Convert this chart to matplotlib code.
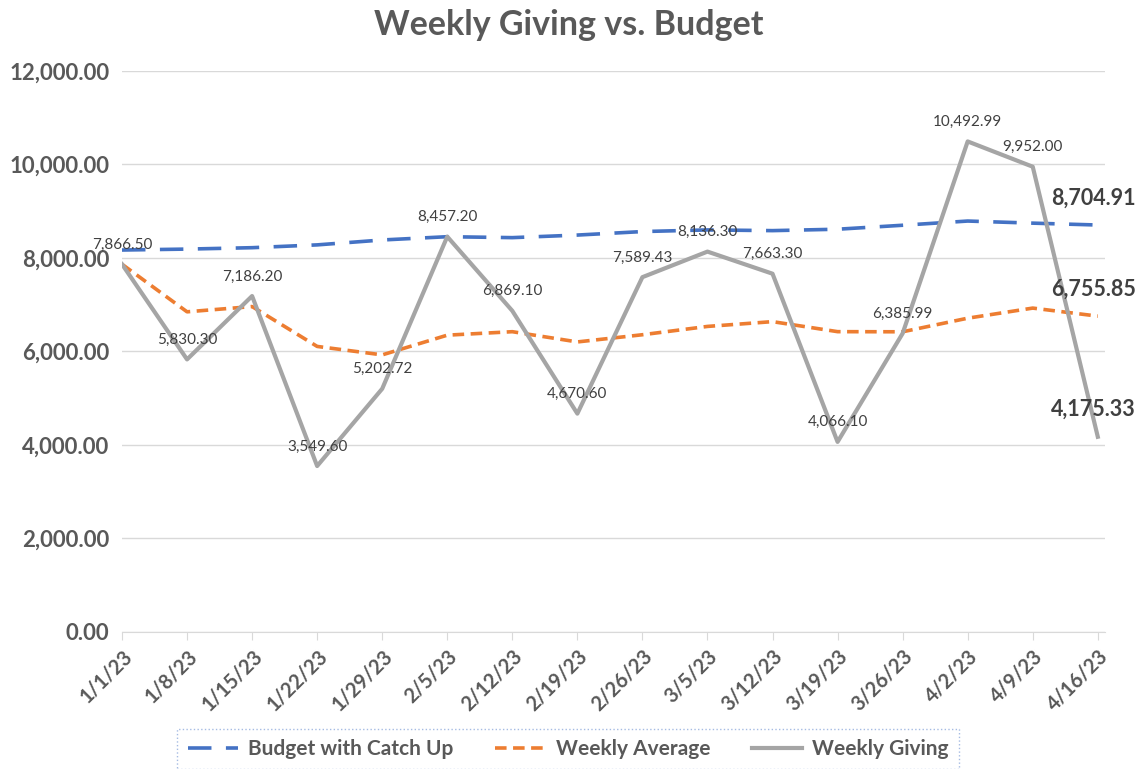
import numpy as np
from matplotlib import pyplot as plt
from matplotlib.ticker import FuncFormatter

weeks = ['1/1/23', '1/8/23', '1/15/23', '1/22/23', '1/29/23', '2/5/23', '2/12/23', '2/19/23',
         '2/26/23', '3/5/23', '3/12/23', '3/19/23', '3/26/23', '4/2/23', '4/9/23', '4/16/23']

budget = [8170, 8190, 8220, 8280, 8385, 8455, 8435, 8490,
          8565, 8600, 8585, 8615, 8700, 8790, 8745, 8704.91]
weekly_avg = [7866.50, 6848.40, 6961.00, 6108.15, 5927.06, 6348.75, 6423.09, 6204.03,
              6357.96, 6535.80, 6638.30, 6423.90, 6421.03, 6711.88, 6927.89, 6755.85]
giving = [7866.50, 5830.30, 7186.20, 3549.60, 5202.72, 8457.20, 6869.10, 4670.60,
          7589.43, 8136.30, 7663.30, 4066.10, 6385.99, 10492.99, 9952.00, 4175.33]

plt.rcParams['font.family'] = ['Lato', 'DejaVu Sans']
txt = '#595959'

fig = plt.figure(figsize=(11.39, 7.69), dpi=100)
ax = fig.add_axes([0.1071, 0.1782, 0.8630, 0.7295])

x = np.arange(len(weeks))
ax.plot(x, budget, color='#4472C4', lw=2.6, dashes=(6.5, 4), label='Budget with Catch Up', zorder=3)
ax.plot(x, weekly_avg, color='#ED7D31', lw=2.6, dashes=(3.2, 1.8), label='Weekly Average', zorder=3)
ax.plot(x, giving, color='#A5A5A5', lw=3.0, label='Weekly Giving', zorder=4)

# data labels for weekly giving
for i, v in enumerate(giving[:-1]):
    ax.annotate(f'{v:,.2f}', (i, v), xytext=(0, 9), textcoords='offset points',
                ha='center', va='bottom', fontsize=11, color='#404040', zorder=5)

# bold labels on last points
for series in (budget, weekly_avg, giving):
    ax.annotate(f'{series[-1]:,.2f}', (x[-1], series[-1]), xytext=(-3, 12), textcoords='offset points',
                ha='center', va='bottom', fontsize=15.5, fontweight='bold', color='#404040', zorder=5,
                annotation_clip=False)

ax.set_xlim(0, 15.11)
ax.set_ylim(0, 12000)
ax.set_yticks(np.arange(0, 12001, 2000))
ax.yaxis.set_major_formatter(FuncFormatter(lambda v, p: f'{v:,.2f}'))
ax.set_xticks(x)
ax.set_xticklabels(weeks, rotation=45, ha='right', rotation_mode='anchor')
ax.tick_params(axis='y', length=0, pad=9, labelsize=16, labelcolor=txt)
ax.tick_params(axis='x', length=6, color='#d9d9d9', pad=4, labelsize=14.5, labelcolor=txt)
for lab in ax.get_xticklabels() + ax.get_yticklabels():
    lab.set_fontweight('bold')

ax.grid(axis='y', color='#d9d9d9', lw=1)
ax.set_axisbelow(True)
for s in ['top', 'right', 'left']:
    ax.spines[s].set_visible(False)
ax.spines['bottom'].set_color('#d9d9d9')

fig.suptitle('Weekly Giving vs. Budget', x=0.499, y=0.988, fontsize=24.5, fontweight='bold', color=txt)

leg = fig.legend(loc='lower center', bbox_to_anchor=(0.499, -0.014), ncol=3, frameon=True,
                 fancybox=False, fontsize=15, handlelength=2.4, handletextpad=0.5,
                 columnspacing=2.0, borderpad=0.5, borderaxespad=0.5)
leg.get_frame().set_edgecolor('#8FAADC')
leg.get_frame().set_linestyle(':')
for t in leg.get_texts():
    t.set_color(txt)
    t.set_fontweight('bold')

fig.savefig('out.png', dpi=100)
